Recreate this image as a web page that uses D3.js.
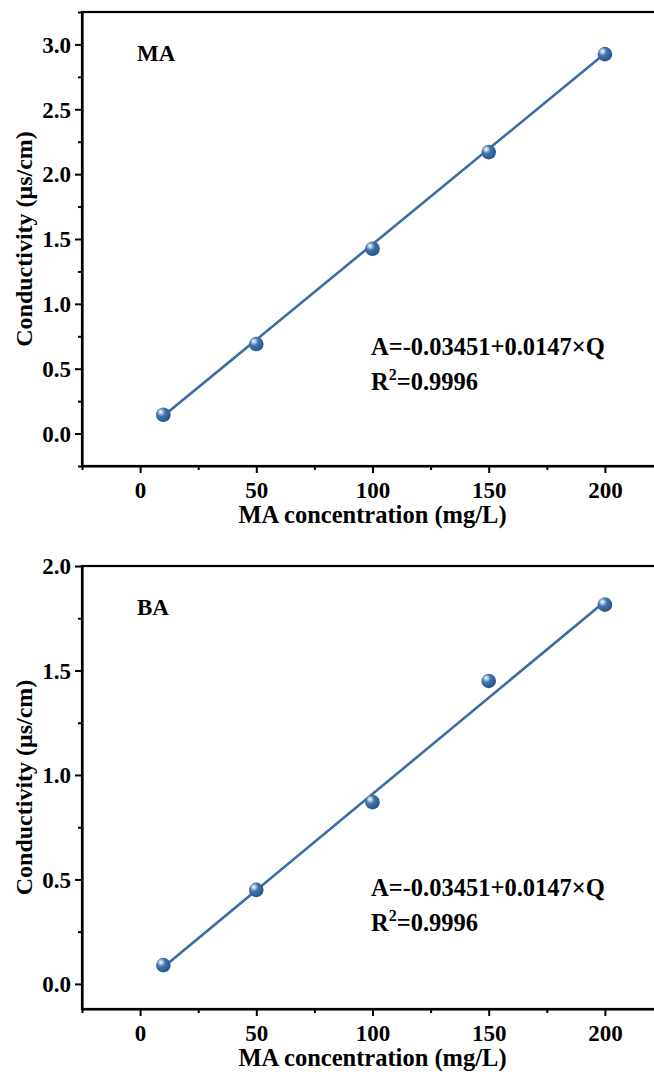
<!DOCTYPE html>
<html>
<head>
<meta charset="utf-8">
<script src="https://cdn.jsdelivr.net/npm/d3@7"></script>
<style>
  body { margin: 0; background: #fff; }
  svg text { font-family: "Liberation Serif", "Times New Roman", serif; font-weight: bold; fill: #000; }
</style>
</head>
<body>
<svg id="chart" width="654" height="1072"></svg>
<script>
// data
const concentration = [10, 50, 100, 150, 200];
const maConductivity = [0.145, 0.69, 1.425, 2.17, 2.925];
const baConductivity = [0.09, 0.45, 0.87, 1.45, 1.815];
// fitted lines (end points at Q = 10 and Q = 200)
const fitQ = [10, 200];
const maFit = [0.135, 2.93];
const baFit = [0.08, 1.83];

const xTicks = [0, 50, 100, 150, 200];
const xMinor = [-25, 25, 75, 125, 175, 225];
const maYTicks = [0, 0.5, 1, 1.5, 2, 2.5, 3];
const maYMinor = [-0.25, 0.25, 0.75, 1.25, 1.75, 2.25, 2.75, 3.25];
const baYTicks = [0, 0.5, 1, 1.5, 2];
const baYMinor = [0.25, 0.75, 1.25, 1.75];

const xTitle = "MA concentration (mg/L)";
const yTitle = "Conductivity (\u03bcs/cm)";
const eqText = "A=-0.03451+0.0147\u00d7Q";
const r2Text = "=0.9996";

const panels = [
  { name: "MA", values: maConductivity, fit: maFit, yDomain: [-0.25, 3.25], yTicks: maYTicks, yMinor: maYMinor,
    top: 12, bottom: 466, eqY: 355 },
  { name: "BA", values: baConductivity, fit: baFit, yDomain: [-0.12, 2.0], yTicks: baYTicks, yMinor: baYMinor,
    top: 566, bottom: 1009, eqY: 896 }
];

const left = 82, right = 663;
const lineColor = "#3b6ca3";
const svg = d3.select("#chart");

// sphere-like marker fill
const grad = svg.append("defs").append("radialGradient")
  .attr("id", "ball").attr("cx", "38%").attr("cy", "35%").attr("r", "65%")
  .attr("fx", "32%").attr("fy", "30%");
grad.append("stop").attr("offset", "0%").attr("stop-color", "#ffffff");
grad.append("stop").attr("offset", "18%").attr("stop-color", "#b5cbe4");
grad.append("stop").attr("offset", "45%").attr("stop-color", "#4273ab");
grad.append("stop").attr("offset", "100%").attr("stop-color", "#24568c");

const xScale = d3.scaleLinear().domain([-25, 225]).range([left, right]);

panels.forEach(p => {
  const y = d3.scaleLinear().domain(p.yDomain).range([p.bottom, p.top]);
  const g = svg.append("g");

  // frame (top / right border)
  g.append("rect")
    .attr("x", left).attr("y", p.top)
    .attr("width", right - left).attr("height", p.bottom - p.top)
    .attr("fill", "none").attr("stroke", "#000").attr("stroke-width", 2.2);

  // x axis, minor then major
  g.append("g").attr("transform", `translate(0,${p.bottom})`)
    .call(d3.axisBottom(xScale).tickValues(xMinor).tickSize(4).tickFormat("").tickSizeOuter(0))
    .call(a => a.select(".domain").remove())
    .call(a => a.selectAll("line").attr("stroke-width", 2));
  const xa = g.append("g").attr("transform", `translate(0,${p.bottom})`)
    .call(d3.axisBottom(xScale).tickValues(xTicks).tickSize(7).tickSizeOuter(0).tickFormat(d3.format("d")));
  xa.select(".domain").attr("stroke-width", 2.2);
  xa.selectAll("line").attr("stroke-width", 2);
  xa.selectAll("text").attr("y", 32).attr("dy", null).style("font-size", "23px");

  // y axis
  g.append("g").attr("transform", `translate(${left},0)`)
    .call(d3.axisLeft(y).tickValues(p.yMinor).tickSize(4).tickFormat("").tickSizeOuter(0))
    .call(a => a.select(".domain").remove())
    .call(a => a.selectAll("line").attr("stroke-width", 2));
  const ya = g.append("g").attr("transform", `translate(${left},0)`)
    .call(d3.axisLeft(y).tickValues(p.yTicks).tickSize(7).tickSizeOuter(0).tickFormat(d3.format(".1f")));
  ya.select(".domain").attr("stroke-width", 2.2);
  ya.selectAll("line").attr("stroke-width", 2);
  ya.selectAll("text").attr("x", -11).attr("dy", "0.34em").style("font-size", "23px");

  // titles
  g.append("text").attr("x", xScale(100)).attr("y", p.bottom + 57)
    .attr("text-anchor", "middle").style("font-size", "24.5px").text(xTitle);
  g.append("text")
    .attr("transform", `translate(32,${(p.top + p.bottom) / 2}) rotate(-90)`)
    .attr("text-anchor", "middle").style("font-size", "24px").text(yTitle);

  // panel label
  g.append("text").attr("x", 137).attr("y", p.top + 49)
    .style("font-size", "23px").text(p.name);

  // fit line
  const line = d3.line().x(d => xScale(d[0])).y(d => y(d[1]));
  g.append("path").datum(fitQ.map((q, i) => [q, p.fit[i]]))
    .attr("d", line).attr("fill", "none").attr("stroke", lineColor).attr("stroke-width", 2.6);

  // points
  g.selectAll(".pt").data(concentration.map((q, i) => [q, p.values[i]]))
    .enter().append("circle").attr("class", "pt")
    .attr("cx", d => xScale(d[0])).attr("cy", d => y(d[1])).attr("r", 7.3)
    .attr("fill", "url(#ball)");

  // equation
  g.append("text").attr("x", 371).attr("y", p.eqY).style("font-size", "24.5px").text(eqText);
  const r2 = g.append("text").attr("x", 371).attr("y", p.eqY + 35).style("font-size", "24.5px");
  r2.append("tspan").text("R");
  r2.append("tspan").attr("dy", -10).style("font-size", "16px").text("2");
  r2.append("tspan").attr("dy", 10).text(r2Text);
});
</script>
</body>
</html>
